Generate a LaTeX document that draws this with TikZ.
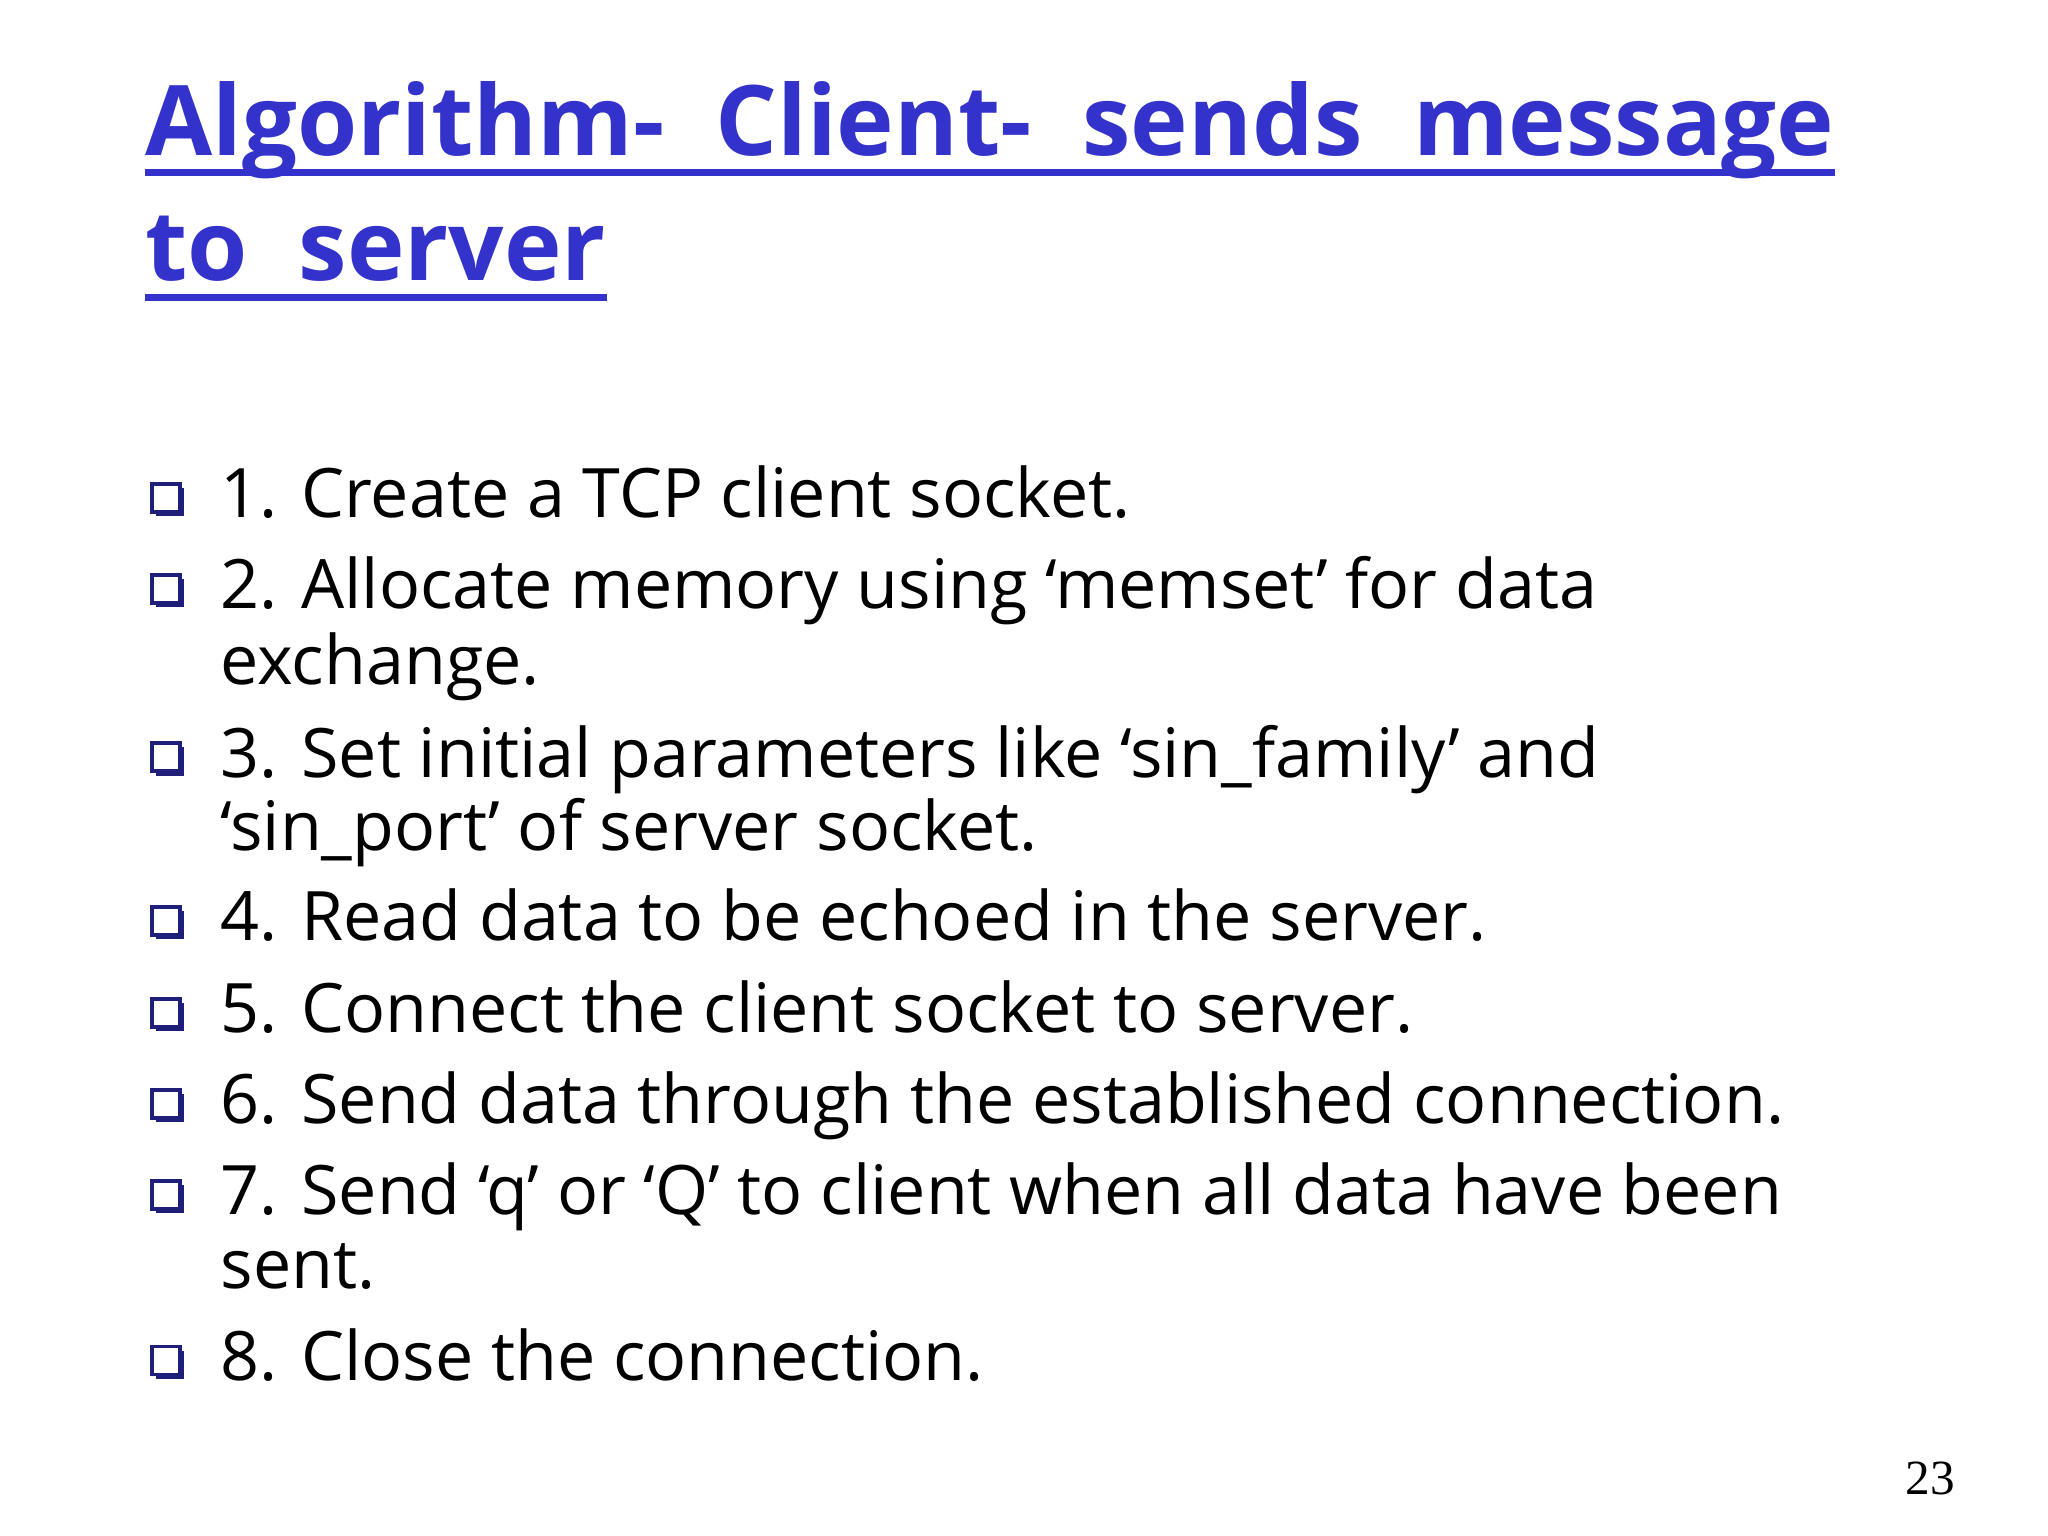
\documentclass[tikz,border=0pt]{standalone}
\usepackage{fontspec}
\setmainfont{Open Sans}
\newfontfamily\numfont{Liberation Serif}
\definecolor{ttl}{HTML}{3333CC}
\begin{document}
\begin{tikzpicture}[x=0.01317cm,y=-0.01317cm,
  ttlt/.style={anchor=base west,inner sep=0pt,text=ttl,font=\fontsize{27.7}{27.7}\selectfont\bfseries},
  item/.style={anchor=base west,inner sep=0pt,font=\fontsize{19.4}{19.4}\selectfont},
  box/.style={draw=ttl!60!black,fill=white,line width=1.1pt,minimum size=0.28cm,inner sep=0pt}]
\useasboundingbox (0,0) rectangle (1555,1166);
\fill[white] (0,0) rectangle (1555,1166);
\node[ttlt] (t1) at (110,118) {Algorithm-\ \ Client-\ \ sends\ \ message};
\node[ttlt] (t2) at (110,213) {to\ \ server};
\draw[ttl,line width=2.2pt] ([yshift=-0.17cm]t1.base west) -- ([yshift=-0.17cm]t1.base east);
\draw[ttl,line width=2.2pt] ([yshift=-0.17cm]t2.base west) -- ([yshift=-0.17cm]t2.base east);
\foreach \y/\t [count=\i] in {
 393/{1. Create a TCP client socket.},
 462/{2. Allocate memory using ‘memset’ for data},
 590/{3. Set initial parameters like ‘sin\_family’ and},
 714/{4. Read data to be echoed in the server.},
 784/{5. Connect the client socket to server.},
 853/{6. Send data through the established connection.},
 922/{7. Send ‘q’ or ‘Q’ to client when all data have been},
 1048/{8. Close the connection.}}{
  \fill[ttl!60!black] (118.5,\y-22.5) rectangle (140,\y-1);
  \node[box] (b\i) at (126,\y-15) {};
  \node[item] (i\i) at (167,\y) {\t};
}
\node[item] (c2) at (167,520) {exchange.};
\node[item] (c3) at (167,646) {‘sin\_port’ of server socket.};
\node[item] (c7) at (167,978) {sent.};
\node[anchor=base east,inner sep=0pt,font=\numfont\fontsize{14}{14}\selectfont] (pg) at (1485,1135) {23};
\end{tikzpicture}
\end{document}
